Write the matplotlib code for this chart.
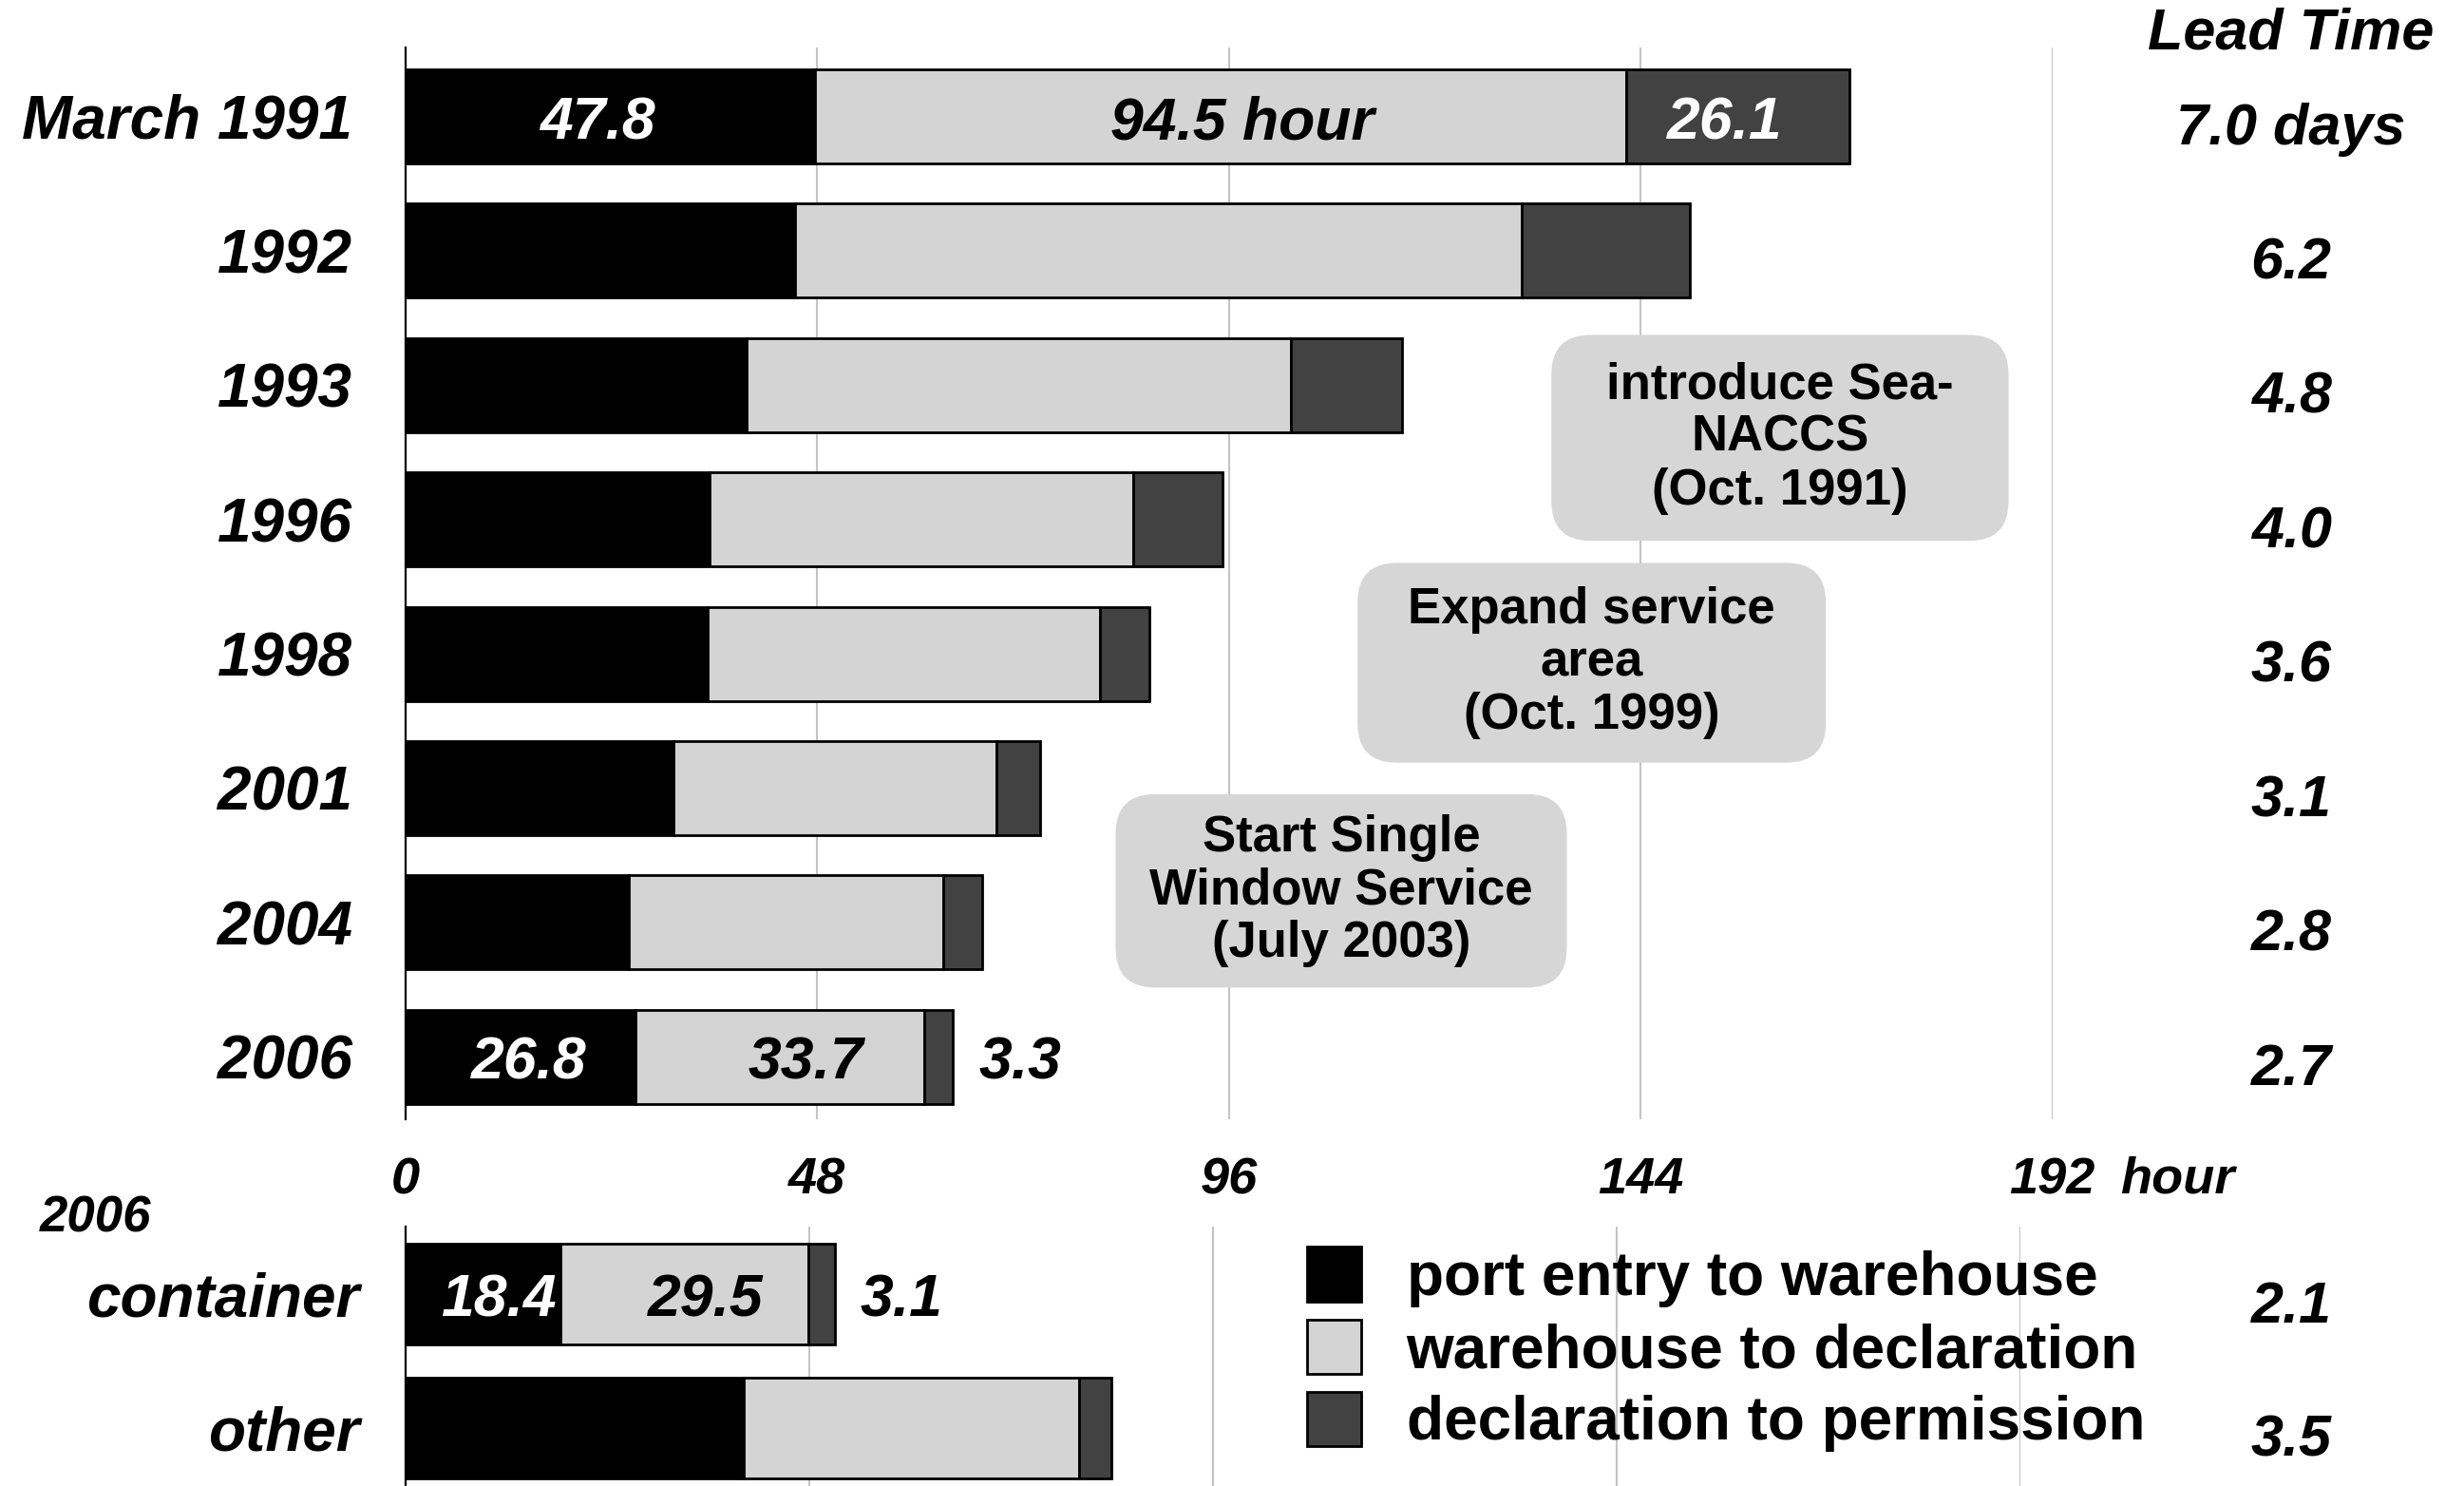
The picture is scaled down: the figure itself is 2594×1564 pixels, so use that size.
import matplotlib.pyplot as plt
import matplotlib.transforms as mtransforms
from matplotlib.patches import Patch, FancyBboxPatch
import numpy as np

# import lead time by period (hours per stage)
years = ['March 1991', '1992', '1993', '1996', '1998', '2001', '2004', '2006']
port_to_wh = [47.8, 45.4, 39.8, 35.5, 35.2, 31.3, 26.0, 26.8]
wh_to_decl = [94.5, 84.7, 63.4, 49.3, 45.8, 37.6, 36.7, 33.7]
decl_to_perm = [26.1, 19.6, 13.0, 10.5, 5.7, 5.1, 4.5, 3.3]
lead_days = [7.0, 6.2, 4.8, 4.0, 3.6, 3.1, 2.8, 2.7]

# 2006 split by cargo type
cargo = ['container', 'other']
cargo_port = [18.4, 40.2]
cargo_wh = [29.5, 39.9]
cargo_decl = [3.1, 3.8]
cargo_days = [2.1, 3.5]

stages = ['port entry to warehouse', 'warehouse to declaration', 'declaration to permission']
hour_ticks = [0, 48, 96, 144, 192]
events = ['introduce Sea-\nNACCS\n(Oct. 1991)',
          'Expand service\narea\n(Oct. 1999)',
          'Start Single\nWindow Service\n(July 2003)']

colors = ['#000000', '#d4d4d4', '#424242']
plt.rcParams['font.family'] = 'Liberation Sans'
plt.rcParams['font.weight'] = 'bold'
BI = dict(fontweight='bold', fontstyle='italic')

fig = plt.figure(figsize=(25.94, 15.64), dpi=100)
W, H = 1568, 945  # layout grid (reference pixels)
ax = fig.add_axes([258 / W, 1 - 712 / H, (1306 - 258) / W, (712 - 30) / H])
ax2 = fig.add_axes([258 / W, 0, (1286 - 258) / W, (945 - 780) / H])


def stack(axis, parts, n, height):
    pos = np.arange(n)
    left = np.zeros(n)
    bars = []
    for vals, c in zip(parts, colors):
        bars.append(axis.barh(pos, vals, left=left, height=height, color=c,
                              edgecolor='black', linewidth=2, zorder=2))
        left = left + np.array(vals)
    return bars


def inside(axis, bar, txt, color, dx=0.0):
    axis.text(bar.get_x() + bar.get_width() / 2 + dx, bar.get_y() + bar.get_height() / 2 + 0.05,
              txt, ha='center', va='center', color=color, fontsize=45, zorder=4, **BI)


def outside(axis, bar, txt):
    axis.text(bar.get_x() + bar.get_width() + 3, bar.get_y() + bar.get_height() / 2 + 0.05,
              txt, ha='left', va='center', color='black', fontsize=45, zorder=4, **BI)


top = stack(ax, [port_to_wh, wh_to_decl, decl_to_perm], len(years), 0.70)
bot = stack(ax2, [cargo_port, cargo_wh, cargo_decl], len(cargo), 0.75)

# value labels on first and last period
inside(ax, top[0][0], f'{port_to_wh[0]}', 'white', -1.5)
inside(ax, top[1][0], f'{wh_to_decl[0]} hour', 'black', 2.5)
inside(ax, top[2][0], f'{decl_to_perm[0]}', 'white', -1.5)
last = len(years) - 1
inside(ax, top[0][last], f'{port_to_wh[last]}', 'white', 1)
inside(ax, top[1][last], f'{wh_to_decl[last]}', 'black', 3)
outside(ax, top[2][last], f'{decl_to_perm[last]}')
inside(ax2, bot[0][0], f'{cargo_port[0]}', 'white', 2)
inside(ax2, bot[1][0], f'{cargo_wh[0]}', 'black', 2.5)
outside(ax2, bot[2][0], f'{cargo_decl[0]}')

# axes styling
for a, labels, pad in [(ax, years, 40), (ax2, cargo, 35)]:
    a.set_xlim(0, 192)
    a.set_xticks(hour_ticks)
    a.set_yticks(range(len(labels)), labels)
    for t in a.get_yticklabels():
        t.set_fontsize(46)
        t.set_fontstyle('italic')
    a.tick_params(axis='y', length=0, pad=pad)
    a.tick_params(axis='x', length=0)
    a.grid(axis='x', color='#c4c4c4', linewidth=1.5, zorder=0)
    a.set_axisbelow(True)
    for s in ['top', 'right', 'bottom']:
        a.spines[s].set_visible(False)
    a.spines['left'].set_linewidth(1.6)
    a.spines['left'].set_zorder(5)

ax.set_ylim(7.468, -0.515)
ax2.set_ylim(1.435, -0.506)
ax.tick_params(axis='x', pad=28)
for t in ax.get_xticklabels():
    t.set_fontsize(39)
    t.set_fontstyle('italic')
ax2.tick_params(axis='x', labelbottom=False)
fig.text(1349 / W, 1 - 750 / H, 'hour', ha='left', va='center', fontsize=39, **BI)
fig.text(25 / W, 1 - 775 / H, '2006', ha='left', va='center', fontsize=38, **BI)

# lead time column
tr = mtransforms.blended_transform_factory(fig.transFigure, ax.transData)
tr2 = mtransforms.blended_transform_factory(fig.transFigure, ax2.transData)
fig.text(1458 / W, 1 - 22 / H, 'Lead Time', ha='center', va='center', fontsize=44, **BI)
for i, d in enumerate(lead_days):
    txt = f'{d:.1f} days' if i == 0 else f'{d:.1f}'
    ax.text(1458 / W, i + 0.1, txt, transform=tr, ha='center', va='center', fontsize=44, **BI)
for i, d in enumerate(cargo_days):
    ax2.text(1458 / W, i + 0.1, f'{d:.1f}', transform=tr2, ha='center', va='center',
             fontsize=44, **BI)

# event boxes (hours, rows)
boxes = [(133.6, 186.9, 1.627, 3.160), (111.0, 165.6, 3.324, 4.811), (82.8, 135.4, 5.045, 6.485)]
for txt, (x0, x1, y0, y1) in zip(events, boxes):
    ax.add_patch(FancyBboxPatch((x0, y0), x1 - x0, y1 - y0,
                                boxstyle='round,pad=0,rounding_size=4.6', mutation_aspect=0.064,
                                facecolor='#d6d6d6', edgecolor='none', zorder=3))
    ax.text((x0 + x1) / 2, (y0 + y1) / 2, txt, ha='center', va='center', fontsize=38,
            fontweight='bold', linespacing=1.15, zorder=4)

handles = [Patch(facecolor=c, edgecolor='black', linewidth=2) for c in colors]
fig.legend(handles, stages, loc='upper left', bbox_to_anchor=(832 / W, 1 - 793 / H),
           frameon=False, borderpad=0, borderaxespad=0, fontsize=46,
           handlelength=0.88, handleheight=1.0, handletextpad=0.75, labelspacing=0.2)

fig.savefig('out.png', dpi=100)
